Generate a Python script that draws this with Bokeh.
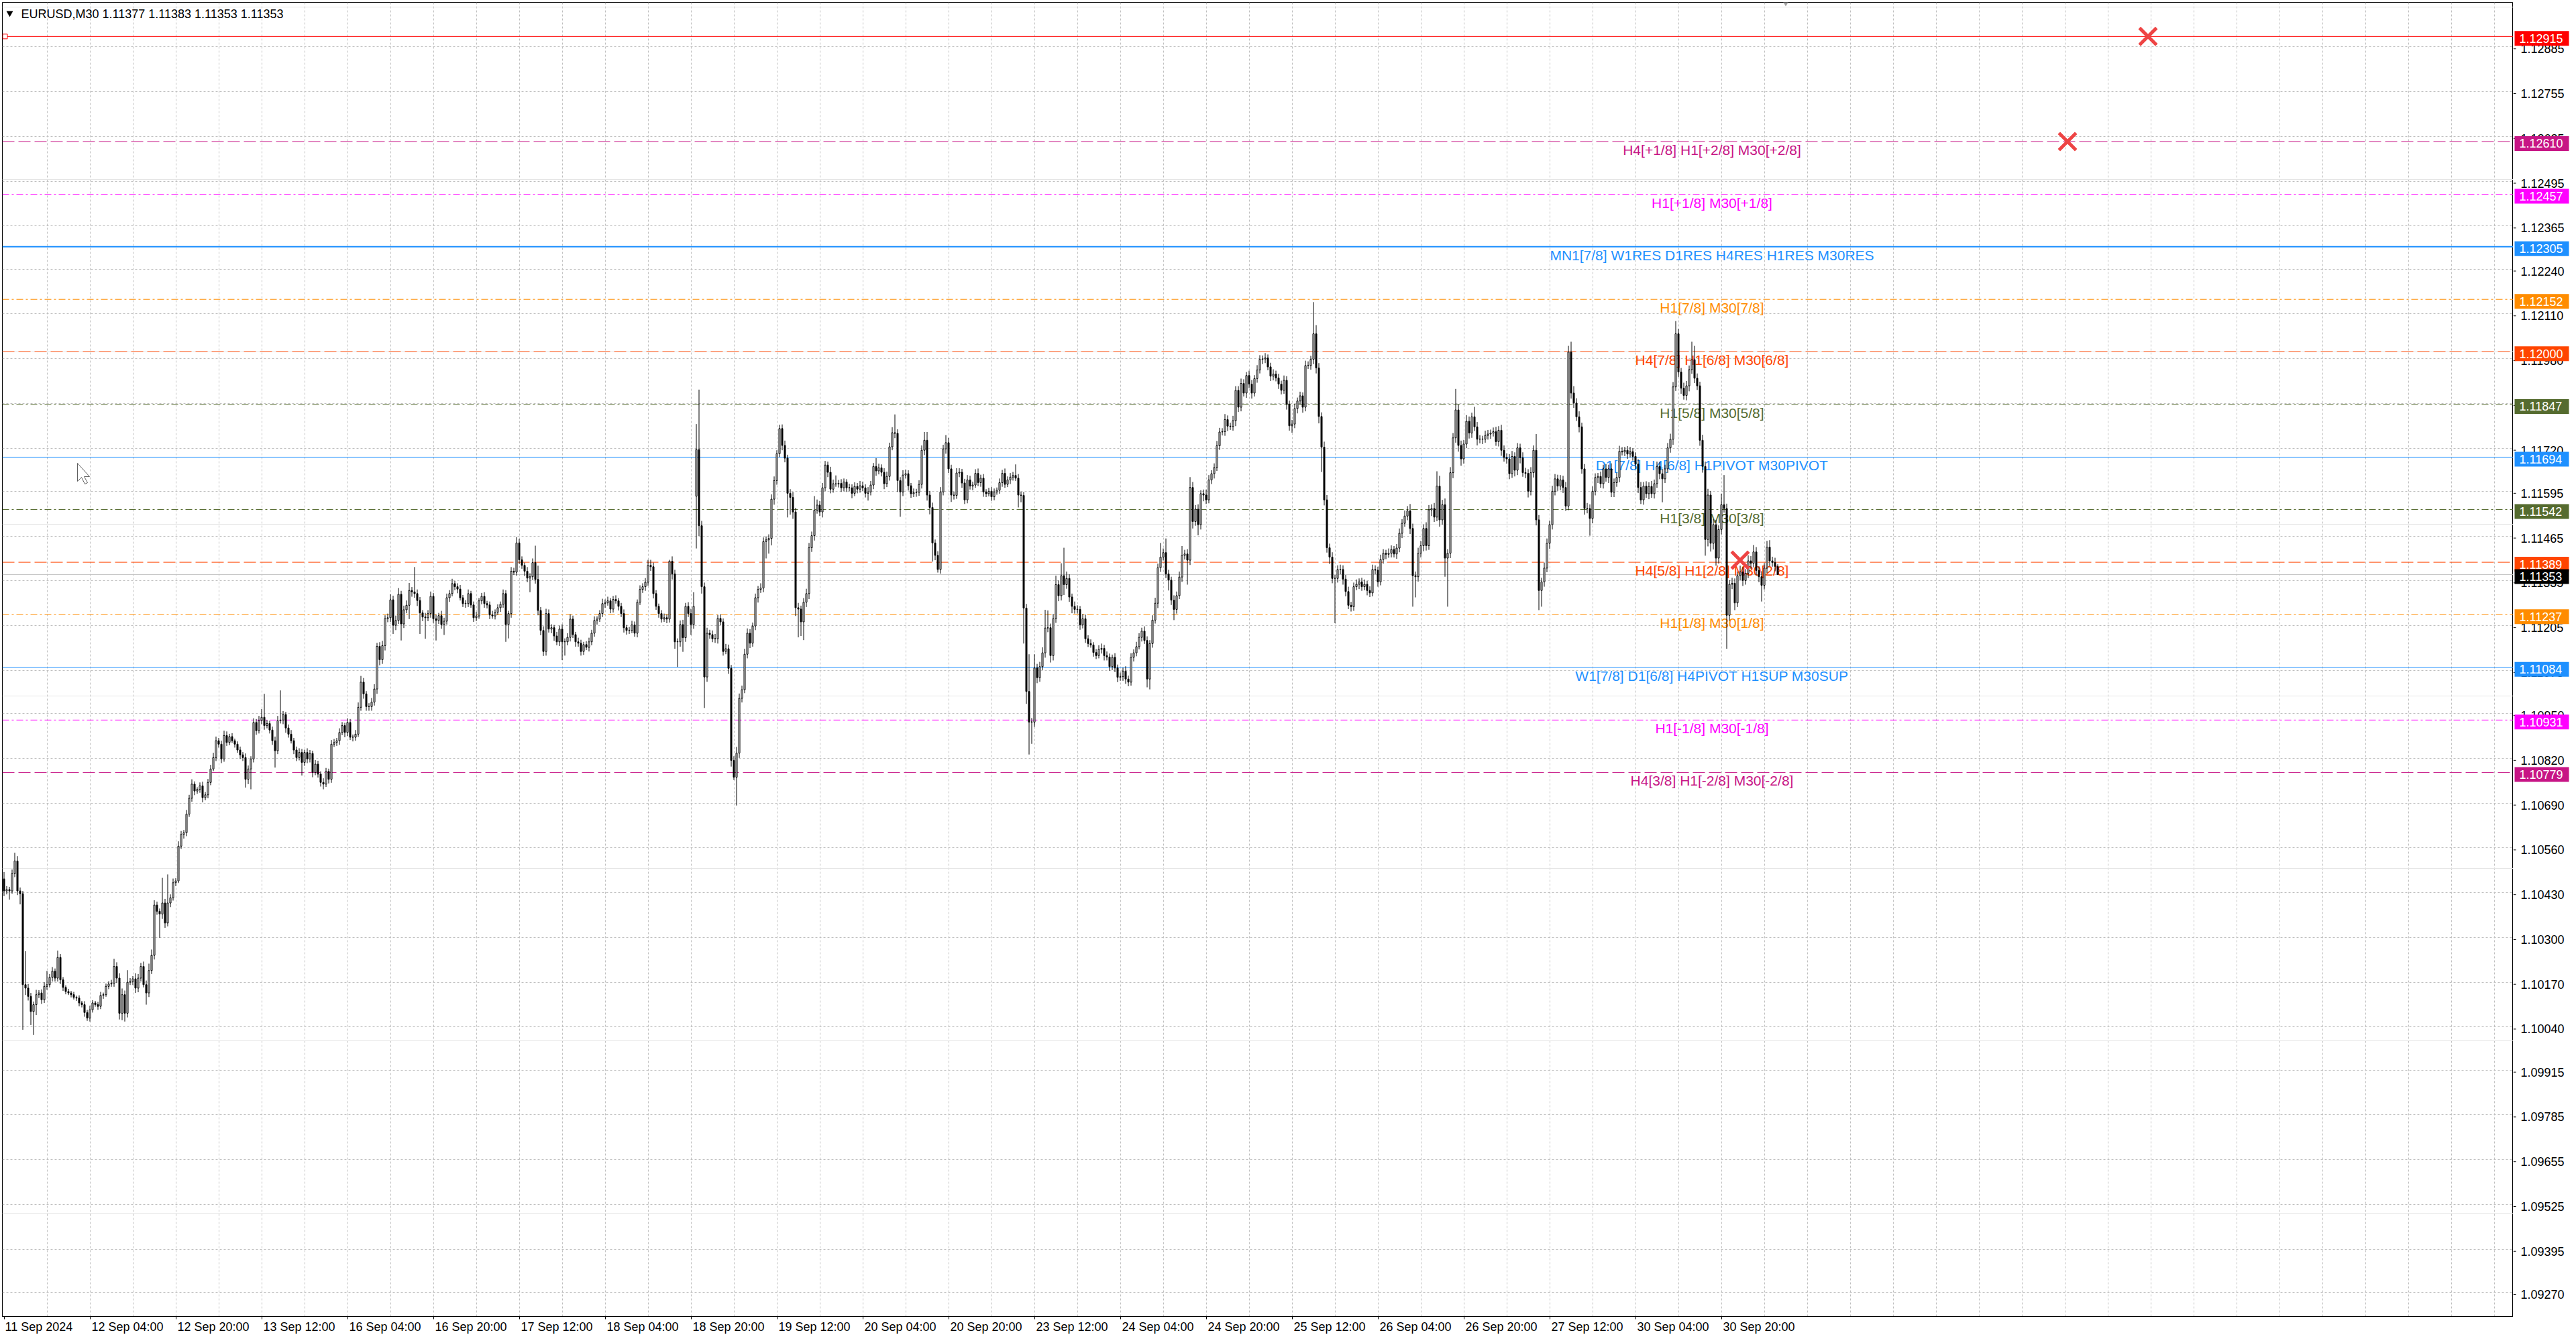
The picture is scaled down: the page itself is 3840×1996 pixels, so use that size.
from bokeh.plotting import figure
from bokeh.models import FixedTicker, Range1d, Grid
from bokeh.layouts import row
from bokeh.core.properties import value
from bokeh.embed import file_html
from bokeh.resources import INLINE

# ---------------- data (prices in 1e-5 above 1.10000) ----------------
SYMBOL_TITLE = "EURUSD,M30  1.11377 1.11383 1.11353 1.11353"
BASE = 1.10000
OPEN0 = 470
OPEN_FIX = {258: 1581, 661: 1377}

CLOSE = [
    435, 439, 435, 485, 522, 435, 427, 163, 153, 129, 85, 105, 134, 139, 119, 158, 163, 184, 202, 182,
    242, 177, 155, 143, 139, 134, 126, 124, 110, 105, 82, 66, 90, 110, 105, 100, 132, 134, 158, 165,
    167, 216, 182, 80, 134, 80, 170, 172, 180, 153, 182, 216, 163, 139, 204, 248, 394, 376, 368, 400,
    342, 400, 415, 459, 464, 565, 599, 604, 658, 704, 745, 725, 730, 740, 706, 714, 750, 789, 822, 871,
    861, 818, 886, 866, 883, 871, 861, 844, 830, 822, 759, 789, 818, 924, 900, 929, 939, 915, 921, 902,
    871, 842, 929, 931, 947, 908, 890, 871, 844, 822, 837, 808, 837, 818, 834, 779, 803, 774, 750, 745,
    782, 759, 861, 866, 871, 895, 915, 895, 924, 881, 881, 890, 968, 1041, 1007, 970, 970, 983, 1021, 1145,
    1106, 1147, 1225, 1228, 1280, 1206, 1220, 1296, 1210, 1251, 1264, 1307, 1303, 1298, 1278, 1242, 1230, 1228, 1240, 1290,
    1225, 1220, 1234, 1208, 1218, 1286, 1298, 1327, 1318, 1311, 1286, 1269, 1269, 1298, 1265, 1228, 1233, 1277, 1290, 1269,
    1265, 1236, 1233, 1244, 1257, 1267, 1298, 1208, 1240, 1363, 1360, 1445, 1396, 1380, 1363, 1343, 1347, 1388, 1339, 1249,
    1191, 1130, 1240, 1195, 1199, 1175, 1158, 1195, 1158, 1158, 1171, 1224, 1179, 1158, 1154, 1130, 1150, 1142, 1158, 1183,
    1220, 1224, 1240, 1269, 1271, 1277, 1253, 1281, 1277, 1261, 1240, 1199, 1191, 1191, 1207, 1183, 1273, 1310, 1318, 1331,
    1380, 1376, 1298, 1261, 1240, 1224, 1228, 1224, 1392, 1355, 1158, 1158, 1208, 1170, 1261, 1240, 1208, 1261, 1716, 1495,
    1318, 1056, 1183, 1179, 1167, 1167, 1226, 1216, 1130, 1138, 1081, 814, 765, 835, 994, 1019, 1122, 1183, 1154, 1204,
    1286, 1310, 1314, 1449, 1454, 1458, 1572, 1626, 1704, 1777, 1728, 1691, 1589, 1577, 1535, 1257, 1253, 1216, 1273, 1298,
    1431, 1466, 1540, 1555, 1535, 1605, 1671, 1650, 1601, 1617, 1616, 1618, 1605, 1622, 1605, 1605, 1589, 1609, 1601, 1611,
    1605, 1589, 1593, 1613, 1667, 1654, 1663, 1650, 1617, 1638, 1724, 1765, 1763, 1626, 1593, 1642, 1646, 1611, 1588, 1591,
    1592, 1615, 1714, 1743, 1584, 1548, 1445, 1409, 1368, 1593, 1718, 1736, 1660, 1584, 1583, 1648, 1650, 1619, 1570, 1628,
    1610, 1613, 1647, 1620, 1633, 1593, 1588, 1595, 1579, 1593, 1598, 1620, 1647, 1615, 1628, 1636, 1641, 1633, 1584, 1583,
    1256, 1014, 925, 925, 1082, 1054, 1086, 1126, 1198, 1199, 1118, 1225, 1324, 1292, 1350, 1324, 1342, 1288, 1261, 1252,
    1252, 1207, 1225, 1167, 1153, 1149, 1127, 1118, 1136, 1139, 1118, 1114, 1086, 1113, 1082, 1055, 1057, 1073, 1050, 1041,
    1113, 1126, 1144, 1171, 1189, 1162, 1050, 1153, 1221, 1270, 1373, 1404, 1417, 1355, 1337, 1279, 1252, 1292, 1346, 1409,
    1413, 1395, 1606, 1507, 1543, 1498, 1588, 1584, 1570, 1628, 1646, 1664, 1727, 1767, 1768, 1803, 1784, 1783, 1800, 1888,
    1839, 1908, 1880, 1931, 1906, 1880, 1922, 1947, 1978, 1979, 1982, 1956, 1929, 1935, 1924, 1906, 1888, 1917, 1848, 1785,
    1790, 1835, 1857, 1872, 1839, 1960, 1960, 1978, 2052, 1953, 1812, 1723, 1570, 1431, 1404, 1342, 1342, 1368, 1368, 1340,
    1304, 1264, 1260, 1318, 1325, 1332, 1318, 1325, 1307, 1300, 1368, 1366, 1332, 1397, 1415, 1412, 1415, 1426, 1413, 1430,
    1473, 1502, 1523, 1538, 1487, 1350, 1347, 1415, 1437, 1487, 1437, 1541, 1545, 1520, 1610, 1512, 1556, 1401, 1415, 1649,
    1750, 1831, 1728, 1689, 1732, 1798, 1764, 1811, 1782, 1746, 1746, 1746, 1757, 1761, 1764, 1768, 1739, 1772, 1714, 1693,
    1689, 1646, 1696, 1656, 1721, 1692, 1649, 1647, 1595, 1649, 1714, 1512, 1307, 1332, 1372, 1444, 1498, 1595, 1631, 1610,
    1628, 1606, 1552, 1999, 1880, 1851, 1811, 1782, 1660, 1545, 1545, 1516, 1595, 1635, 1638, 1617, 1660, 1635, 1660, 1592,
    1620, 1635, 1711, 1709, 1714, 1703, 1710, 1696, 1674, 1606, 1570, 1610, 1588, 1609, 1588, 1617, 1667, 1646, 1631, 1660,
    1721, 1746, 1898, 2052, 1941, 1894, 1873, 1901, 1948, 1977, 1923, 1901, 1743, 1667, 1455, 1584, 1444, 1498, 1401, 1484,
    1556, 1545, 1235, 1325, 1328, 1271, 1350, 1361, 1336, 1357, 1393, 1386, 1419, 1365, 1347, 1322, 1372, 1433, 1393, 1388, 1377, 1353,
]

# upper wick length above body top (1e-5)
UW = [
    20, 10, 8, 12, 24, 14, 10, 8, 97, 12, 10, 9, 14, 8, 10, 12, 40, 10, 12, 8,
    20, 10, 8, 6, 8, 6, 8, 5, 8, 6, 10, 8, 12, 8, 6, 8, 10, 6, 8, 8,
    10, 22, 12, 14, 18, 12, 35, 10, 8, 16, 12, 10, 14, 12, 20, 17, 14, 10, 8, 73,
    12, 83, 10, 12, 8, 14, 10, 8, 12, 10, 14, 8, 6, 10, 12, 8, 10, 12, 14, 12,
    8, 10, 14, 12, 8, 10, 6, 8, 10, 8, 12, 10, 8, 12, 10, 14, 24, 68, 10, 8,
    10, 12, 14, 86, 10, 8, 10, 12, 8, 10, 12, 10, 8, 12, 10, 8, 12, 10, 8, 12,
    10, 8, 12, 10, 8, 12, 10, 8, 12, 10, 8, 12, 14, 18, 12, 8, 10, 12, 14, 10,
    12, 14, 10, 12, 16, 12, 14, 18, 10, 12, 14, 22, 10, 72, 12, 10, 8, 12, 10, 14,
    10, 12, 8, 14, 10, 12, 10, 14, 8, 10, 12, 8, 10, 12, 8, 10, 12, 8, 10, 12,
    8, 10, 12, 8, 10, 8, 12, 10, 8, 12, 10, 17, 12, 10, 8, 12, 10, 12, 49, 40,
    10, 12, 14, 12, 10, 8, 12, 10, 14, 10, 12, 14, 10, 8, 12, 10, 8, 10, 12, 10,
    12, 8, 10, 14, 10, 12, 8, 10, 12, 8, 10, 12, 8, 10, 12, 10, 8, 12, 10, 12,
    16, 16, 12, 10, 8, 10, 12, 10, 4, 14, 12, 10, 12, 14, 10, 12, 14, 41, 74, 174,
    14, 12, 16, 10, 12, 14, 10, 12, 10, 14, 12, 10, 12, 18, 14, 12, 16, 14, 12, 10,
    12, 10, 14, 12, 10, 12, 14, 12, 10, 11, 12, 14, 10, 12, 16, 12, 14, 10, 12, 14,
    14, 12, 41, 16, 12, 14, 12, 10, 16, 12, 24, 10, 12, 10, 8, 12, 10, 12, 10, 14,
    12, 10, 14, 12, 10, 24, 12, 10, 12, 14, 12, 16, 53, 12, 10, 14, 12, 10, 8, 12,
    10, 12, 14, 24, 24, 12, 14, 10, 12, 14, 12, 22, 14, 12, 10, 14, 12, 10, 12, 14,
    12, 10, 12, 14, 10, 12, 8, 10, 12, 10, 8, 12, 10, 14, 10, 12, 10, 32, 12, 10,
    10, 12, 108, 12, 40, 12, 14, 16, 53, 50, 12, 14, 26, 12, 36, 81, 20, 12, 10, 14,
    12, 10, 14, 12, 10, 12, 8, 10, 12, 14, 10, 12, 10, 8, 12, 10, 12, 10, 14, 10,
    12, 10, 14, 12, 10, 14, 12, 10, 14, 16, 12, 41, 12, 41, 12, 10, 14, 12, 16, 27,
    12, 14, 30, 16, 12, 14, 10, 12, 16, 14, 10, 12, 14, 12, 10, 16, 12, 10, 14, 12,
    12, 14, 12, 10, 14, 12, 10, 14, 12, 10, 14, 10, 12, 14, 10, 12, 10, 14, 12, 10,
    12, 14, 10, 12, 10, 14, 12, 10, 92, 25, 14, 12, 16, 14, 12, 14, 10, 12, 14, 12,
    12, 14, 10, 12, 14, 10, 12, 14, 10, 12, 14, 12, 10, 14, 12, 10, 14, 12, 10, 12,
    14, 12, 16, 14, 20, 14, 12, 16, 14, 12, 18, 14, 12, 16, 43, 30, 14, 18, 12, 16,
    14, 61, 16, 14, 12, 18, 14, 12, 29, 14, 12, 10, 14, 12, 10, 12, 14, 12, 16, 14,
    12, 14, 16, 12, 14, 12, 16, 14, 12, 16, 14, 47, 14, 12, 16, 14, 12, 16, 14, 12,
    14, 12, 16, 18, 30, 20, 14, 16, 12, 14, 16, 12, 14, 12, 10, 14, 12, 14, 12, 16,
    12, 14, 16, 12, 10, 12, 14, 10, 12, 14, 16, 12, 14, 12, 16, 12, 14, 12, 14, 12,
    14, 16, 14, 37, 14, 12, 16, 14, 12, 52, 40, 14, 12, 16, 14, 18, 12, 16, 14, 12,
    32, 86, 14, 12, 16, 14, 12, 18, 14, 12, 16, 14, 20, 14, 12, 16, 14, 18, 20, 12, 14, 6,
]

# lower wick length below body bottom (1e-5)
DW = [
    15, 10, 25, 8, 10, 12, 31, 131, 20, 12, 39, 68, 30, 10, 12, 9, 10, 8, 12, 10,
    10, 12, 10, 8, 6, 8, 6, 8, 10, 8, 12, 8, 10, 8, 6, 10, 8, 10, 6, 8,
    8, 10, 14, 18, 20, 24, 12, 8, 10, 14, 12, 10, 8, 34, 12, 10, 12, 10, 69, 14,
    14, 10, 12, 8, 10, 6, 8, 12, 10, 8, 10, 12, 8, 10, 14, 8, 10, 8, 6, 10,
    10, 12, 8, 10, 8, 6, 10, 8, 12, 10, 24, 14, 59, 10, 12, 8, 10, 12, 8, 10,
    12, 49, 10, 8, 12, 14, 10, 8, 12, 10, 8, 38, 10, 12, 10, 14, 8, 10, 12, 15,
    8, 12, 10, 8, 10, 12, 8, 14, 10, 8, 12, 10, 8, 10, 14, 12, 12, 12, 10, 14,
    16, 12, 14, 10, 12, 25, 14, 10, 48, 12, 10, 40, 14, 12, 16, 61, 12, 61, 10, 12,
    12, 58, 10, 12, 30, 10, 12, 8, 10, 12, 8, 10, 12, 10, 8, 12, 10, 8, 10, 12,
    10, 12, 8, 10, 8, 12, 10, 50, 40, 12, 8, 10, 12, 10, 14, 12, 41, 10, 12, 14,
    14, 13, 12, 10, 12, 14, 10, 12, 53, 40, 10, 12, 10, 14, 10, 12, 10, 8, 12, 10,
    10, 12, 8, 10, 12, 8, 12, 10, 8, 12, 10, 14, 12, 10, 8, 10, 12, 8, 10, 12,
    10, 12, 14, 10, 12, 10, 8, 12, 10, 16, 20, 73, 14, 41, 12, 10, 30, 12, 152, 30,
    20, 90, 14, 12, 10, 12, 14, 10, 12, 8, 16, 18, 8, 82, 14, 12, 10, 12, 14, 10,
    12, 14, 10, 12, 49, 40, 20, 16, 12, 10, 14, 12, 70, 50, 20, 24, 82, 41, 53, 14,
    16, 12, 14, 10, 12, 16, 10, 14, 12, 10, 8, 10, 12, 10, 12, 10, 14, 8, 12, 10,
    10, 12, 21, 10, 12, 14, 10, 12, 16, 10, 12, 10, 14, 33, 72, 12, 10, 14, 12, 10,
    12, 10, 12, 14, 16, 20, 54, 14, 9, 12, 10, 14, 12, 20, 12, 10, 12, 14, 12, 10,
    10, 12, 8, 10, 12, 14, 10, 8, 12, 10, 8, 10, 12, 10, 8, 12, 10, 8, 36, 20,
    103, 36, 94, 63, 14, 16, 12, 10, 14, 12, 20, 14, 12, 16, 14, 30, 12, 14, 20, 12,
    12, 14, 10, 12, 10, 8, 12, 10, 8, 12, 14, 10, 12, 10, 12, 14, 10, 12, 14, 12,
    10, 12, 10, 8, 12, 10, 24, 30, 12, 10, 14, 12, 10, 12, 30, 14, 31, 12, 10, 14,
    12, 71, 14, 20, 12, 31, 14, 18, 12, 10, 12, 14, 10, 12, 10, 12, 14, 10, 12, 16,
    14, 12, 10, 14, 12, 16, 10, 12, 10, 14, 12, 10, 14, 12, 10, 14, 12, 10, 16, 14,
    20, 12, 14, 10, 16, 12, 10, 12, 14, 16, 20, 72, 16, 14, 20, 14, 130, 12, 14, 16,
    14, 11, 14, 12, 10, 14, 12, 10, 14, 12, 10, 12, 14, 10, 12, 14, 10, 12, 10, 14,
    12, 14, 10, 12, 16, 90, 60, 14, 12, 16, 14, 12, 18, 14, 12, 20, 14, 54, 141, 14,
    16, 14, 18, 20, 14, 12, 16, 14, 12, 18, 12, 14, 10, 12, 14, 10, 12, 14, 16, 12,
    14, 16, 12, 18, 14, 16, 12, 14, 18, 12, 14, 16, 57, 47, 14, 12, 16, 14, 12, 14,
    12, 16, 14, 12, 16, 14, 12, 16, 14, 18, 14, 50, 14, 12, 16, 12, 14, 12, 16, 14,
    14, 12, 14, 10, 12, 14, 10, 12, 14, 16, 12, 14, 12, 16, 12, 14, 12, 16, 68, 12,
    12, 14, 16, 12, 14, 16, 12, 14, 16, 12, 14, 12, 16, 18, 47, 20, 24, 18, 22, 16,
    14, 12, 97, 16, 14, 21, 12, 14, 16, 12, 14, 16, 12, 14, 16, 47, 12, 14, 16, 12, 14, 0,
]

# levels drawn on the chart
LEVELS = [1.12915, 1.12610, 1.12457, 1.12305, 1.12152, 1.12000, 1.11847,
          1.11694, 1.11542, 1.11389, 1.11237, 1.11084, 1.10931, 1.10779]
LEVEL_TEXT = ["", "H4[+1/8] H1[+2/8] M30[+2/8]", "H1[+1/8] M30[+1/8]",
              "MN1[7/8] W1RES D1RES H4RES H1RES M30RES", "H1[7/8] M30[7/8]",
              "H4[7/8] H1[6/8] M30[6/8]", "H1[5/8] M30[5/8]",
              "D1[7/8] H4[6/8] H1PIVOT M30PIVOT", "H1[3/8] M30[3/8]",
              "H4[5/8] H1[2/8] M30[2/8]", "H1[1/8] M30[1/8]",
              "W1[7/8] D1[6/8] H4PIVOT H1SUP M30SUP", "H1[-1/8] M30[-1/8]",
              "H4[3/8] H1[-2/8] M30[-2/8]"]
LEVEL_COLOR = ["#FF0000", "#C71585", "#FF00FF", "#1E90FF", "#FF8C00", "#FF4500", "#556B2F",
               "#1E90FF", "#556B2F", "#FF4500", "#FF8C00", "#1E90FF", "#FF00FF", "#C71585"]
LEVEL_STYLE = ["solid", "dash", "dashdot", "solid", "dashdot", "dash", "dashdot",
               "solid", "dashdot", "dash", "dashdot", "solid", "dashdot", "dash"]
LEVEL_WIDTH = [1, 1, 1, 2, 1, 1, 1, 1, 1, 1, 1, 1, 1, 1]
CURRENT_PRICE = 1.11353

XMARK_BARS = [799, 769, 647]
XMARK_PRICES = [1.12915, 1.12610, 1.11395]

Y_TICKS = [1.12885, 1.12755, 1.12625, 1.12495, 1.12365, 1.12240, 1.12110, 1.11980, 1.11850,
           1.11720, 1.11595, 1.11465, 1.11335, 1.11205, 1.11075, 1.10950, 1.10820, 1.10690,
           1.10560, 1.10430, 1.10300, 1.10170, 1.10040, 1.09915, 1.09785, 1.09655, 1.09525,
           1.09395, 1.09270]

X_LABEL_BARS = [0, 32, 64, 96, 128, 160, 192, 224, 256, 288, 320, 352, 384, 416, 448,
                480, 512, 544, 576, 608, 640]
X_LABELS = ["11 Sep 2024", "12 Sep 04:00", "12 Sep 20:00", "13 Sep 12:00", "16 Sep 04:00",
            "16 Sep 20:00", "17 Sep 12:00", "18 Sep 04:00", "18 Sep 20:00", "19 Sep 12:00",
            "20 Sep 04:00", "20 Sep 20:00", "23 Sep 12:00", "24 Sep 04:00", "24 Sep 20:00",
            "25 Sep 12:00", "26 Sep 04:00", "26 Sep 20:00", "27 Sep 12:00", "30 Sep 04:00",
            "30 Sep 20:00"]

# ---------------- layout ----------------
FONT = "Liberation Sans"
PX_PER_BAR = 4.0
PPX = 0.00001947          # price per pixel
LEFT, TOP = 3, 3
FRAME_W = 3743
FRAME_H = 1959
BOTTOM = 32
AXIS_W = 90
X0 = -0.625               # puts bar centres on half pixels -> crisp 1px wicks
X1 = X0 + FRAME_W / PX_PER_BAR
Y1 = 1.13014
Y0 = Y1 - FRAME_H * PPX
LABEL_BAR = 636.5
DASHES = {"solid": "solid", "dash": "18 6", "dashdot": "10 4 3 4"}
GRID_COLOR = "#C0C0C0"

n = min(len(CLOSE), len(UW), len(DW))
idx = list(range(n))
highs, lows, tops, bots, fills = [], [], [], [], []
prev = OPEN0
for i in idx:
    o = OPEN_FIX.get(i, prev)
    c = CLOSE[i]
    highs.append(BASE + (max(o, c) + UW[i]) / 1e5)
    lows.append(BASE + (min(o, c) - DW[i]) / 1e5)
    t, b = BASE + max(o, c) / 1e5, BASE + min(o, c) / 1e5
    if t - b < 0.8e-5:
        t = b + 0.8e-5
    tops.append(t)
    bots.append(b)
    fills.append("white" if c >= o else "black")
    prev = c

p = figure(frame_width=FRAME_W, frame_height=FRAME_H,
           x_range=Range1d(X0, X1), y_range=Range1d(Y0, Y1),
           y_axis_location=None, output_backend="svg", toolbar_location=None,
           min_border_left=LEFT, min_border_top=TOP, min_border_right=0, min_border_bottom=BOTTOM,
           background_fill_color="white", border_fill_color="white",
           outline_line_color="black", outline_line_width=1)

# grids
p.xgrid.ticker = FixedTicker(ticks=list(range(16, int(X1), 16)))
p.xgrid.grid_line_color = GRID_COLOR
p.xgrid.grid_line_dash = "3 3"
p.add_layout(Grid(dimension=1, ticker=FixedTicker(ticks=Y_TICKS),
                  grid_line_color=GRID_COLOR, grid_line_dash="3 3"))

# x axis: MT4 puts the label right of its tick mark
centers = [b + (13 if k == 0 else 14) for k, b in enumerate(X_LABEL_BARS)]
xa = p.xaxis[0]
xa.ticker = FixedTicker(ticks=centers, minor_ticks=X_LABEL_BARS)
xa.major_label_overrides = {c: t for c, t in zip(centers, X_LABELS)}
xa.major_tick_line_color = None
xa.major_tick_out = 0
xa.major_tick_in = 0
xa.minor_tick_line_color = "black"
xa.minor_tick_out = 4
xa.minor_tick_in = 0
xa.axis_line_color = "black"
xa.major_label_text_font = FONT
xa.major_label_text_font_size = "18px"
xa.major_label_text_color = "black"
xa.major_label_standoff = 1

# level lines
for lvl, col, sty, w in zip(LEVELS, LEVEL_COLOR, LEVEL_STYLE, LEVEL_WIDTH):
    p.segment(x0=[X0], x1=[X1], y0=[lvl], y1=[lvl], line_color=col,
              line_width=w, line_dash=DASHES[sty])
p.segment(x0=[X0], x1=[X1], y0=[CURRENT_PRICE], y1=[CURRENT_PRICE],
          line_color="#C0C0C0", line_width=1)

# level texts
tx = [(lvl, t, c) for lvl, t, c in zip(LEVELS, LEVEL_TEXT, LEVEL_COLOR) if t]
p.text(x=[LABEL_BAR] * len(tx), y=[a[0] for a in tx], text=[a[1] for a in tx],
       text_color=[a[2] for a in tx], text_align="center", text_baseline="top",
       text_font=value(FONT), text_font_size="21px", y_offset=1)

# candles
p.segment(x0=idx, x1=idx, y0=lows, y1=highs, line_color="black", line_width=1)
p.vbar(x=idx, top=tops, bottom=bots, width=0.5, fill_color=fills,
       line_color="black", line_width=1)

# markers
p.scatter(x=XMARK_BARS, y=XMARK_PRICES, marker="x", size=36, line_width=5,
          line_color="#EE4444")
p.scatter(x=[X0 + 4 / PX_PER_BAR], y=[LEVELS[0]], marker="square", size=7,
          fill_color="white", line_color="#FF0000", line_width=1)
p.scatter(x=[664], y=[Y1 + 2 * PPX], marker="inverted_triangle", size=14,
          fill_color="#A0A0A0", line_color=None)

# mouse pointer left on the screenshot
tipx, tipy = X0 + (115 - LEFT) / PX_PER_BAR, Y1 - (690 - TOP) * PPX
cur = [(0, 0), (0, 27), (6, 21), (11, 31), (15, 29), (10, 20), (18, 20)]
p.patch(x=[tipx + a / PX_PER_BAR for a, b in cur], y=[tipy - b * PPX for a, b in cur],
        fill_color="white", line_color="#606060", line_width=1)

# title
p.scatter(x=[X0 + (14 - LEFT) / PX_PER_BAR], y=[Y1 - (19 - TOP) * PPX],
          marker="inverted_triangle", size=10, fill_color="black", line_color=None)
p.text(x=[X0 + (31 - LEFT) / PX_PER_BAR], y=[Y1 - (20 - TOP) * PPX], text=[SYMBOL_TITLE],
       text_color="black", text_align="left", text_baseline="middle",
       text_font=value(FONT), text_font_size="18px")

# ---------------- right price scale ----------------
TOTAL_H = TOP + FRAME_H + BOTTOM
q = figure(frame_width=AXIS_W, frame_height=TOTAL_H,
           x_range=Range1d(0, AXIS_W), y_range=Range1d(Y0 - BOTTOM * PPX, Y1 + TOP * PPX),
           x_axis_location=None, y_axis_location=None, output_backend="svg",
           toolbar_location=None, min_border=0, outline_line_color=None,
           background_fill_color="white", border_fill_color="white")
q.xgrid.visible = False
q.ygrid.visible = False
q.segment(x0=[0] * len(Y_TICKS), x1=[4] * len(Y_TICKS), y0=Y_TICKS, y1=Y_TICKS,
          line_color="black", line_width=1)
q.text(x=[11] * len(Y_TICKS), y=Y_TICKS, text=[f"{t:.5f}" for t in Y_TICKS],
       text_color="black", text_align="left", text_baseline="middle",
       text_font=value(FONT), text_font_size="18px")
box_levels = LEVELS + [CURRENT_PRICE]
box_colors = LEVEL_COLOR + ["#000000"]
q.quad(left=[2] * len(box_levels), right=[83] * len(box_levels),
       top=[v + 11 * PPX for v in box_levels], bottom=[v - 11 * PPX for v in box_levels],
       fill_color=box_colors, line_color=None)
q.text(x=[9] * len(box_levels), y=box_levels, text=[f"{v:.5f}" for v in box_levels],
       text_color="white", text_align="left", text_baseline="middle",
       text_font=value(FONT), text_font_size="18px")

layout = row(p, q, spacing=0)
open("out.html", "w").write(file_html(layout, INLINE))
